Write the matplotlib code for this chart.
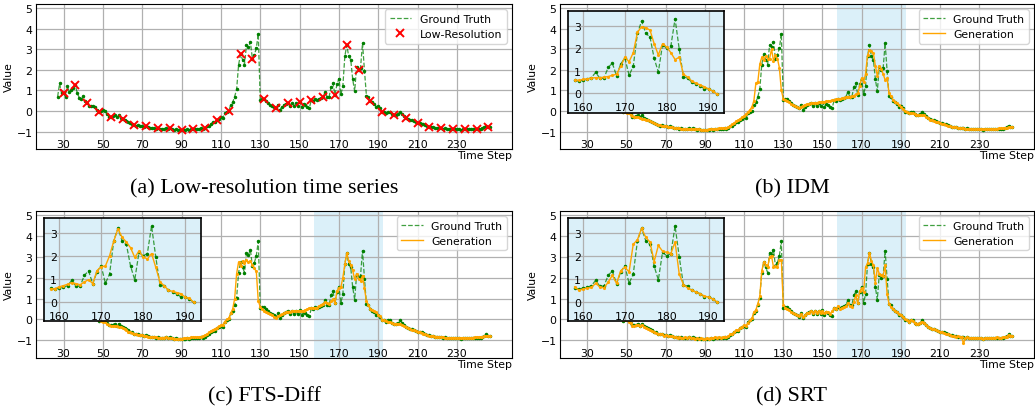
import numpy as np
import matplotlib.pyplot as plt

# time steps 27..247
steps = np.arange(27, 248)

ground_truth = [
    0.7, 1.34, 0.85, 0.85, 0.7, 1.2, 0.9, 1.0, 1.1, 1.28,
    0.85, 0.65, 0.6, 0.72, 0.5, 0.37, 0.25, 0.22, 0.22, 0.2,
    0.05, -0.07, 0.0, 0.05, 0.02, -0.15, -0.28, -0.28, -0.25, -0.2,
    -0.3, -0.2, -0.33, -0.38, -0.42, -0.48, -0.52, -0.58, -0.62, -0.7,
    -0.72, -0.7, -0.75, -0.73, -0.78, -0.75, -0.78, -0.82, -0.85, -0.83,
    -0.87, -0.85, -0.87, -0.88, -0.87, -0.85, -0.88, -0.85, -0.9, -0.92,
    -0.9, -0.93, -0.92, -0.93, -0.92, -0.93, -0.9, -0.92, -0.88, -0.87,
    -0.88, -0.9, -0.88, -0.85, -0.88, -0.82, -0.75, -0.72, -0.62, -0.55,
    -0.55, -0.42, -0.38, -0.3, -0.35, -0.12, -0.05, 0.0, 0.3, 0.42,
    0.7, 1.05, 2.25, 2.75, 2.5, 2.25, 3.2, 3.1, 3.35, 2.55,
    2.72, 3.05, 3.75, 0.55, 0.6, 0.58, 0.5, 0.4, 0.3, 0.25,
    0.2, 0.12, 0.3, 0.05, 0.2, 0.3, 0.35, 0.4, 0.25, 0.4,
    0.25, 0.4, 0.25, 0.45, 0.2, 0.35, 0.3, 0.2, 0.15, 0.55,
    0.5, 0.6, 0.54, 0.6, 0.63, 0.7, 0.93, 0.68, 0.68, 1.15,
    1.34, 0.78, 1.3, 1.57, 0.8, 1.2, 2.65, 3.2, 2.65, 2.5,
    1.55, 0.95, 2.15, 2.0, 2.1, 3.3, 1.95, 0.73, 0.68, 0.5,
    0.42, 0.35, 0.2, 0.22, 0.12, -0.03, -0.05, -0.1, -0.05, -0.05,
    -0.15, -0.22, -0.2, -0.15, -0.05, -0.15, -0.25, -0.35, -0.4, -0.45,
    -0.45, -0.5, -0.55, -0.58, -0.6, -0.62, -0.65, -0.7, -0.75, -0.77,
    -0.78, -0.8, -0.82, -0.85, -0.83, -0.85, -0.88, -0.85, -0.88, -0.9,
    -0.88, -0.9, -0.9, -0.88, -0.9, -0.92, -0.9, -0.9, -0.88, -0.9,
    -0.88, -0.9, -0.87, -0.87, -0.9, -0.88, -0.85, -0.8, -0.72, -0.78, -0.8,
]

idm_gen = [
    0.75, 0.95, 0.95, 0.9, 0.9, 1.0, 1.0, 1.05, 1.1, 1.15,
    0.95, 0.75, 0.65, 0.6, 0.5, 0.4, 0.3, 0.25, 0.2, 0.15,
    0.05, -0.03, -0.05, -0.08, -0.12, -0.18, -0.25, -0.28, -0.3, -0.3,
    -0.35, -0.38, -0.4, -0.42, -0.45, -0.5, -0.55, -0.6, -0.65, -0.68,
    -0.7, -0.72, -0.73, -0.75, -0.76, -0.78, -0.8, -0.82, -0.83, -0.85,
    -0.85, -0.86, -0.87, -0.87, -0.88, -0.87, -0.88, -0.88, -0.9, -0.9,
    -0.9, -0.92, -0.92, -0.92, -0.92, -0.9, -0.9, -0.88, -0.87, -0.86,
    -0.85, -0.85, -0.85, -0.83, -0.82, -0.78, -0.72, -0.65, -0.58, -0.5,
    -0.45, -0.38, -0.3, -0.25, -0.15, -0.05, 0.05, 0.2, 0.5, 1.35,
    1.42, 2.27, 2.6, 2.47, 2.68, 2.55, 2.55, 3.0, 2.45, 2.7,
    2.55, 2.1, 1.0, 0.6, 0.55, 0.5, 0.42, 0.35, 0.28, 0.22,
    0.18, 0.12, 0.2, 0.25, 0.3, 0.33, 0.35, 0.38, 0.38, 0.4,
    0.4, 0.42, 0.42, 0.45, 0.45, 0.47, 0.48, 0.5, 0.52, 0.55,
    0.57, 0.6, 0.58, 0.62, 0.65, 0.68, 0.7, 0.7, 0.72, 0.75,
    0.8, 0.85, 1.2, 1.6, 1.4, 1.8, 2.7, 2.95, 2.9, 2.8,
    2.2, 1.7, 2.2, 2.05, 1.8, 1.5, 1.6, 0.85, 0.72, 0.55,
    0.45, 0.38, 0.3, 0.2, 0.1, -0.02, -0.05, -0.08, -0.1, -0.12,
    -0.15, -0.18, -0.2, -0.22, -0.2, -0.22, -0.28, -0.35, -0.42, -0.45,
    -0.48, -0.52, -0.55, -0.6, -0.62, -0.65, -0.68, -0.72, -0.75, -0.78,
    -0.8, -0.8, -0.82, -0.83, -0.85, -0.85, -0.87, -0.87, -0.88, -0.88,
    -0.88, -0.9, -0.9, -0.88, -0.88, -0.9, -0.9, -0.9, -0.88, -0.88,
    -0.88, -0.87, -0.87, -0.85, -0.85, -0.85, -0.83, -0.82, -0.78, -0.78, -0.8,
]

fts_gen = [
    0.8, 0.9, 0.95, 0.9, 0.95, 1.0, 1.02, 1.05, 1.1, 1.1,
    0.9, 0.75, 0.65, 0.6, 0.5, 0.4, 0.3, 0.25, 0.2, 0.12,
    0.02, -0.05, -0.08, -0.1, -0.13, -0.2, -0.28, -0.3, -0.32, -0.3,
    -0.33, -0.35, -0.38, -0.42, -0.47, -0.52, -0.58, -0.62, -0.66, -0.7,
    -0.72, -0.73, -0.75, -0.75, -0.78, -0.8, -0.82, -0.83, -0.85, -0.85,
    -0.85, -0.87, -0.88, -0.87, -0.87, -0.86, -0.88, -0.9, -0.9, -0.92,
    -0.92, -0.93, -0.92, -0.92, -0.9, -0.9, -0.88, -0.88, -0.86, -0.85,
    -0.85, -0.86, -0.84, -0.82, -0.8, -0.75, -0.7, -0.62, -0.55, -0.5,
    -0.45, -0.4, -0.33, -0.28, -0.25, -0.1, 0.0, 0.05, 0.3, 0.5,
    1.0, 2.2, 2.75, 2.55, 2.8, 2.7, 2.85, 2.75, 2.8, 2.6,
    2.45, 2.3, 0.9, 0.6, 0.5, 0.42, 0.35, 0.3, 0.25, 0.2,
    0.12, 0.08, 0.15, 0.2, 0.25, 0.3, 0.35, 0.38, 0.38, 0.4,
    0.42, 0.4, 0.4, 0.42, 0.4, 0.42, 0.45, 0.5, 0.55, 0.55,
    0.55, 0.56, 0.57, 0.65, 0.7, 0.76, 0.83, 0.79, 0.74, 0.86,
    0.96, 0.79, 1.35, 1.53, 1.55, 2.0, 2.64, 3.18, 2.8, 2.6,
    2.35, 1.93, 2.2, 1.96, 1.86, 2.1, 1.5, 0.86, 0.7, 0.5,
    0.45, 0.4, 0.35, 0.2, 0.15, -0.02, -0.05, -0.08, -0.1, -0.12,
    -0.18, -0.2, -0.22, -0.2, -0.22, -0.25, -0.3, -0.35, -0.42, -0.45,
    -0.5, -0.52, -0.55, -0.58, -0.6, -0.65, -0.68, -0.72, -0.75, -0.78,
    -0.78, -0.8, -0.82, -0.82, -0.85, -0.85, -0.85, -0.88, -0.88, -0.9,
    -0.9, -0.88, -0.88, -0.9, -0.9, -0.9, -0.88, -0.88, -0.9, -0.88,
    -0.88, -0.87, -0.85, -0.85, -0.85, -0.83, -0.83, -0.8, -0.78, -0.78, -0.8,
]

srt_gen = [
    0.75, 1.1, 0.9, 0.85, 0.8, 1.1, 0.95, 1.0, 1.1, 1.2,
    0.85, 0.7, 0.62, 0.68, 0.5, 0.38, 0.28, 0.22, 0.2, 0.15,
    0.05, -0.05, -0.05, -0.05, -0.1, -0.18, -0.3, -0.3, -0.28, -0.25,
    -0.32, -0.25, -0.35, -0.4, -0.45, -0.5, -0.55, -0.6, -0.65, -0.7,
    -0.7, -0.72, -0.78, -0.75, -0.8, -0.78, -0.8, -0.85, -0.83, -0.88,
    -0.85, -0.87, -0.9, -0.85, -0.88, -0.85, -0.9, -0.87, -0.92, -0.9,
    -0.92, -0.9, -0.95, -0.92, -0.9, -0.93, -0.88, -0.9, -0.85, -0.88,
    -0.85, -0.88, -0.85, -0.82, -0.85, -0.8, -0.72, -0.7, -0.6, -0.52,
    -0.5, -0.4, -0.35, -0.28, -0.3, -0.15, -0.05, 0.05, 0.35, 0.45,
    0.75, 1.1, 2.3, 2.75, 2.6, 2.5, 3.0, 3.05, 2.5, 2.55,
    2.5, 2.85, 2.85, 0.7, 0.55, 0.5, 0.45, 0.35, 0.3, 0.25,
    0.2, 0.15, 0.25, 0.1, 0.2, 0.3, 0.32, 0.4, 0.3, 0.4,
    0.3, 0.4, 0.3, 0.42, 0.3, 0.38, 0.35, 0.28, 0.4, 0.55,
    0.5, 0.65, 0.5, 0.55, 0.6, 0.62, 0.8, 0.65, 0.6, 0.85,
    1.15, 0.8, 1.35, 1.5, 1.3, 2.5, 2.7, 3.2, 2.8, 2.6,
    1.75, 2.45, 2.2, 2.15, 2.1, 2.6, 1.2, 0.75, 0.6, 0.5,
    0.42, 0.35, 0.25, 0.2, 0.12, 0.0, -0.05, -0.1, -0.05, -0.08,
    -0.15, -0.2, -0.2, -0.15, -0.1, -0.15, -0.25, -0.35, -0.4, -0.45,
    -0.48, -0.5, -0.55, -0.6, -0.6, -0.65, -0.68, -0.72, -0.75, -0.78,
    -0.8, -0.82, -0.8, -0.85, -0.85, -1.15, -0.88, -0.85, -0.9, -0.88,
    -0.9, -0.88, -0.9, -0.9, -0.88, -0.92, -0.9, -0.88, -0.9, -0.88,
    -0.9, -0.88, -0.85, -0.88, -0.9, -0.85, -0.85, -0.82, -0.75, -0.78, -0.8,
]

# low-resolution samples: every 6th step starting at 30
low_res_x = steps[3::6]
low_res_y = np.array(ground_truth)[3::6]

zoom_lo, zoom_hi = 158, 192
x_ticks = [30, 50, 70, 90, 110, 130, 150, 170, 190, 210, 230]
y_ticks = [-1, 0, 1, 2, 3, 4, 5]
inset_xticks = [160, 170, 180, 190]
inset_yticks = [0, 1, 2, 3]

captions = ["(a) Low-resolution time series", "(b) IDM", "(c) FTS-Diff", "(d) SRT"]

FS = 7.8
span_color = (0.86, 0.94, 0.976)


def style_main(ax):
    ax.set_xticks(x_ticks)
    ax.set_yticks(y_ticks)
    ax.set_ylim(-1.85, 5.2)
    ax.grid(True, color='#b0b0b0', lw=0.9)
    ax.tick_params(axis='x', direction='in', length=0, pad=-7.5, labelsize=FS)
    ax.tick_params(axis='y', length=0, pad=2.5, labelsize=FS)
    ax.set_xlabel('Time Step', loc='right', fontsize=FS, labelpad=1)
    ax.set_ylabel('Value', fontsize=FS, labelpad=2)


def draw_gt(ax, x, y, label=None):
    ax.plot(x, y, '--', color='green', lw=0.9, alpha=0.75, label=label)
    ax.plot(x, y, '.', color='green', ms=3)


def draw_gen(ax, x, y, label=None):
    ax.plot(x, y, '-', color='orange', lw=1.0, label=label)
    ax.plot(x, y, '.', color='orange', ms=2.5)


def gen_panel(ax, gen):
    ax.axvspan(zoom_lo - 0.5, zoom_hi + 0.5, color=span_color, lw=0, zorder=0.8)
    draw_gt(ax, steps, ground_truth, 'Ground Truth')
    draw_gen(ax, steps, gen, 'Generation')
    style_main(ax)
    ax.legend(loc='upper right', fontsize=FS)

    ins = ax.inset_axes([0.016, 0.25, 0.33, 0.703])
    ins.set_facecolor(span_color)
    m = (steps >= zoom_lo) & (steps <= zoom_hi)
    draw_gt(ins, steps[m], np.array(ground_truth)[m])
    draw_gen(ins, steps[m], np.array(gen)[m])
    ins.set_xticks(inset_xticks)
    ins.set_yticks(inset_yticks)
    ins.set_ylim(-0.85, 3.65)
    ins.grid(True, color='#b0b0b0', lw=0.9)
    ins.tick_params(axis='x', direction='in', length=0, pad=-7.5, labelsize=FS)
    ins.tick_params(axis='y', direction='in', length=0, pad=-4.5, labelsize=FS)
    for lab in ins.get_yticklabels():
        lab.set_horizontalalignment('left')
    for s in ins.spines.values():
        s.set_linewidth(1.2)
        s.set_color('black')


fig = plt.figure(figsize=(10.35, 4.14), dpi=100)
W, H = 1035, 414
boxes = [(36, 5, 476, 145), (560, 5, 474, 145), (36, 212, 476, 147), (560, 212, 474, 147)]
axes = []
for (l, t, w, h) in boxes:
    axes.append(fig.add_axes([l / W, 1 - (t + h) / H, w / W, h / H]))

ax = axes[0]
draw_gt(ax, steps, ground_truth, 'Ground Truth')
ax.plot(low_res_x, low_res_y, 'x', color='red', ms=5.5, mew=1.4, label='Low-Resolution')
style_main(ax)
ax.legend(loc='upper right', fontsize=FS)

gen_panel(axes[1], idm_gen)
gen_panel(axes[2], fts_gen)
gen_panel(axes[3], srt_gen)

cap_pos = [(264, 189), (792, 189), (264, 397), (792, 397)]
for (cx, cy), txt in zip(cap_pos, captions):
    fig.text(cx / W, 1 - cy / H, txt, ha='center', va='center',
             family='Liberation Serif', fontsize=16)

fig.savefig('out.png', dpi=100)
